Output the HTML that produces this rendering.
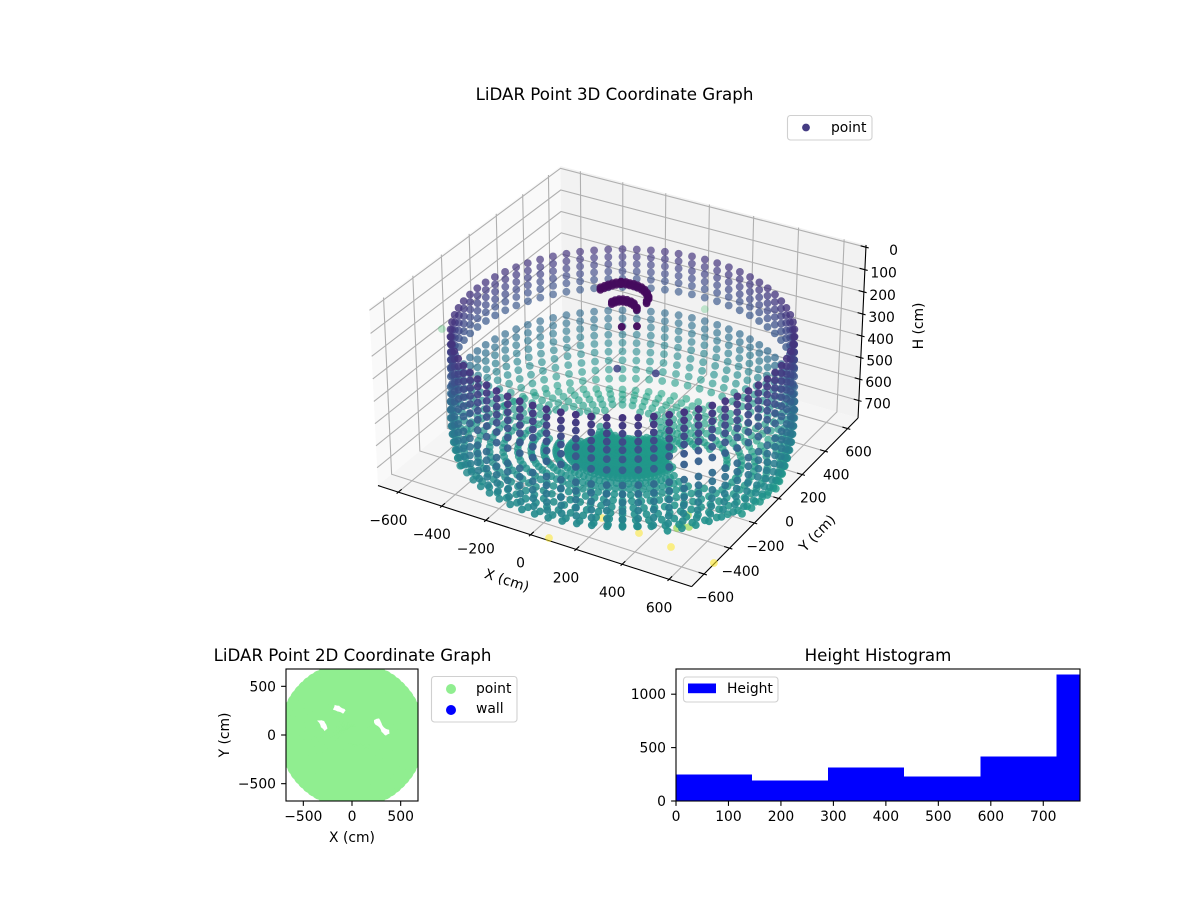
<!DOCTYPE html>
<html>
<head>
<meta charset="utf-8">
<title>LiDAR Point Graphs</title>
<style>
html,body{margin:0;padding:0;background:#fff;}
svg{display:block;}
text{font-family:"DejaVu Sans","Liberation Sans",sans-serif;font-size:13.89px;fill:#000;}
.title{font-size:16.67px;text-anchor:middle;}
.mid{text-anchor:middle;}
.end{text-anchor:end;}
</style>
</head>
<body>
<svg id="fig" xmlns="http://www.w3.org/2000/svg" width="1200" height="900" viewBox="0 0 1200 900">
  <defs>
    <clipPath id="clip2d"><rect x="286" y="669" width="132" height="132"/></clipPath>
    <clipPath id="cliphist"><rect x="676" y="669" width="404" height="132"/></clipPath>
  </defs>
  <rect width="1200" height="900" fill="#fff"/>
  <text class="title" x="614.5" y="100">LiDAR Point 3D Coordinate Graph</text>
  <g id="panes"></g>
  <g id="grid3d" fill="none" stroke="#b0b0b0" stroke-width="1.1"></g>
  <g id="axes3d" fill="none" stroke="#000" stroke-width="1.1"></g>
  <g id="labels3d"></g>
  <g id="scatter3d"></g>
  <text class="mid" transform="translate(507,580) rotate(18)" y="5">X (cm)</text>
  <text class="mid" transform="translate(817,533) rotate(-45.7)" y="5">Y (cm)</text>
  <text class="mid" transform="translate(918,326) rotate(-90)" y="5">H (cm)</text>
  <g>
    <rect x="787.5" y="115.5" width="84.5" height="24.5" rx="3" fill="#fff" fill-opacity="0.8" stroke="#d0d0d0" stroke-width="1.1"/>
    <circle cx="806" cy="127.5" r="3.9" fill="#453c83"/>
    <text x="831" y="132">point</text>
  </g>

  <text class="title" x="352.5" y="661">LiDAR Point 2D Coordinate Graph</text>
  <g id="scatter2d" clip-path="url(#clip2d)" fill="#90ee90"></g>
  <rect x="286" y="669" width="132" height="132" fill="none" stroke="#000" stroke-width="1.1"/>
  <g id="ticks2d"></g>
  <text class="mid" x="352" y="842">X (cm)</text>
  <text class="mid" transform="translate(224,735) rotate(-90)" y="5">Y (cm)</text>
  <g>
    <rect x="431.5" y="676.5" width="85.5" height="45.5" rx="3" fill="#fff" fill-opacity="0.8" stroke="#d0d0d0" stroke-width="1.1"/>
    <circle cx="451" cy="689" r="5" fill="#90ee90"/>
    <text x="476" y="693">point</text>
    <circle cx="451" cy="710" r="5" fill="#0000ff"/>
    <text x="476" y="713">wall</text>
  </g>

  <text class="title" x="878" y="661">Height Histogram</text>
  <g id="bars" clip-path="url(#cliphist)" fill="#0000ff" shape-rendering="crispEdges"></g>
  <rect x="676" y="669" width="404" height="132" fill="none" stroke="#000" stroke-width="1.1"/>
  <g id="tickshist"></g>
  <g>
    <rect x="683.5" y="677" width="94.5" height="25" rx="3" fill="#fff" fill-opacity="0.8" stroke="#d0d0d0" stroke-width="1.1"/>
    <rect x="688" y="683.5" width="28" height="9.7" fill="#0000ff"/>
    <text x="727" y="693">Height</text>
  </g>
</svg>
<script>
// ---- scan geometry (cm) ----
const azimuthDeg = [0,5,10,15,20,25,30,35,40,45,50,55,60,65,70,75,80,85,90,95,100,105,110,115,120,125,130,135,140,145,150,155,160,165,170,175,180,185,190,195,200,205,210,215,220,225,230,235,240,245,250,255,260,265,270,275,280,285,290,295,300,305,310,315,320,325,330,335,340,345,350,355];
const wallRowZ = [226,260,294,329,364,404,450,516,554,592,630,668,706,744,782,820];
const wallRowR = [664,664,665,666,667,668,670,672,673,674,672,669,663,655,646,636];
const wallRowMissingFrom = [999,999,999,999,999,999,30,999,999,999,999,999,999,999,999,999];
const wallRowMissingTo = [999,999,999,999,999,999,210,999,999,999,999,999,999,999,999,999];
const floorRingR = [21,42,63,85,106,128,150,172,194,217,263,311,361,414,472,525,575,625];
const floorCenterZ = [797];
const floorTiltPerCm = [0.13];
const holeX = [-165,-95,-310,-280,250,340];
const holeY = [285,245,130,70,135,40];
const holeRadius = [105,105,105,105,108,108];
const arcX = [-67.8,-61,-53.8,-45.3,-36,-22.9,-22.9,-4.7,11.9,28.7,47.3,67.8,86.9,108.1,128,138.3,26.5,31.9,41.1,54.1,69.7,88.3,105.5,132.1];
const arcY = [-51.2,-32.7,-15.5,-0.2,13.8,28.3,28.3,34.5,35.4,36.4,34.2,28.7,18.1,0.1,-23.1,-56,-126.6,-111.3,-97.4,-89.9,-87,-89.2,-96.6,-120.1];
const arcZ = [40,40,40,40,40,40,40,40,40,40,40,40,40,40,40,40,40,40,40,40,40,40,40,40];
const arcWidthX = [0,-5,5];
const arcWidthY = [0,9,-9];
const strayX = [193,-20,-189,-498,-383,114,121,153,106,-502,-1423,70,216,152.4,199.5];
const strayY = [425,441,467,244,489,247,277,278,355,1607,866,-162,-120,-270.1,-236.8];
const strayZ = [1500,1500,1500,1500,1500,1250,1250,1250,1250,1050,1050,300,300,40,40];
const colorMaxZ = [1500];
// ---- tick labels ----
const xTicks3d = [-600,-400,-200,0,200,400,600];
const yTicks3d = [-600,-400,-200,0,200,400,600];
const zTicks3d = [0,100,200,300,400,500,600,700];
const ticks2d = [-500,0,500];
const histEdges = [0,145,290,435,580,725,870];
const histCounts = [246,190,312,228,415,1183];
const histXTicks = [0,100,200,300,400,500,600,700];
const histYTicks = [0,500,1000];

// ---- axis functions ----
const NS = 'http://www.w3.org/2000/svg';
const L = 695, zTop = -10, zBot = 782, hx = 0.6005, hz = 0.34, S = 2975, CX = 622.5, CY = 365;
function project(x, y, z) {
  const bx = x / L * hx, by = y / L * hx;
  const bz = hz - (z - zTop) / (zBot - zTop) * 2 * hz;
  const du = 0.866025 * bx + 0.5 * by;
  const dv = -0.25 * bx + 0.433013 * by + 0.866025 * bz;
  const dn = 0.433013 * bx - 0.75 * by + 0.5 * bz;
  const w = 10 - dn;
  return [CX + S * du / w, CY - S * dv / w, w];
}
const x2d = v => 352 + v * 0.09735;
const y2d = v => 735 - v * 0.09735;
const xHist = v => 676 + v * 404 / 770;
const yHist = v => 801 - v * 0.1068;

const viridisStops = [[68,1,84],[72,36,117],[65,68,135],[53,95,141],[42,120,142],[33,145,140],[34,168,132],[68,191,112],[122,209,81],[189,223,38],[253,231,37]];
function viridis(t) {
  t = Math.max(0, Math.min(1, t)) * 10;
  const i = Math.min(9, Math.floor(t)), f = t - i, a = viridisStops[i], b = viridisStops[i + 1];
  return 'rgb(' + [0, 1, 2].map(k => Math.round(a[k] + (b[k] - a[k]) * f)).join(',') + ')';
}
const fmt = v => String(v).replace('-', '\u2212');
function mk(tag, attrs, parent) {
  const el = document.createElementNS(NS, tag);
  for (const k in attrs) el.setAttribute(k, attrs[k]);
  parent.appendChild(el);
  return el;
}
function pathOf(pts) {
  return pts.map((p, i) => (i ? 'L' : 'M') + p[0].toFixed(2) + ' ' + p[1].toFixed(2)).join('');
}

// ---- panes ----
const panes = document.getElementById('panes');
const paneDefs = [
  ['pane-left', '#f9f9f9', [[-L,-L,zBot],[-L,L,zBot],[-L,L,zTop],[-L,-L,zTop]]],
  ['pane-back', '#f2f2f2', [[-L,L,zBot],[L,L,zBot],[L,L,zTop],[-L,L,zTop]]],
  ['pane-floor', '#f5f5f5', [[-L,-L,zBot],[L,-L,zBot],[L,L,zBot],[-L,L,zBot]]]
];
paneDefs.forEach(d => {
  const el = mk('path', {d: pathOf(d[2].map(c => project(c[0], c[1], c[2]))) + 'Z', fill: d[1]}, panes);
  
  
});

// ---- grid, ticks, tick labels ----
const grid3d = document.getElementById('grid3d');
const axes3d = document.getElementById('axes3d');
const labels3d = document.getElementById('labels3d');
function gridLine(pts, name) {
  const el = mk('path', {d: pathOf(pts.map(c => project(c[0], c[1], c[2])))}, grid3d);
  
  
}
function axisLine(a, b, name) {
  const el = mk('path', {d: pathOf([project(a[0], a[1], a[2]), project(b[0], b[1], b[2])])}, axes3d);
  
  
}
function label3d(txt, x, y, cls, name) {
  const el = mk('text', {x: x.toFixed(1), y: y.toFixed(1), class: cls}, labels3d);
  el.textContent = txt;
  
  
}
xTicks3d.forEach(v => {
  gridLine([[v,-L,zBot],[v,L,zBot],[v,L,zTop]], 'x-gridline');
  axisLine([v,-L-12,zBot],[v,-L+23,zBot], 'x-tick');
  const p = project(v, -L, zBot);
  label3d(fmt(v), p[0] - 10, p[1] + 33, 'mid', 'x-tick-label');
});
yTicks3d.forEach(v => {
  gridLine([[L,v,zBot],[-L,v,zBot],[-L,v,zTop]], 'y-gridline');
  axisLine([L+12,v,zBot],[L-23,v,zBot], 'y-tick');
  const p = project(L, v, zBot);
  label3d(fmt(v), p[0] + 11, p[1] + 28, 'mid', 'y-tick-label');
});
zTicks3d.forEach(v => {
  gridLine([[-L,-L,v],[-L,L,v],[L,L,v]], 'z-gridline');
  axisLine([L+12,L,v],[L-23,L,v], 'z-tick');
  const p = project(L, L, v);
  label3d(fmt(v), p[0] + 32, p[1] + 8, 'end', 'z-tick-label');
});
axisLine([-L,-L,zBot],[L,-L,zBot], 'x-axis-line');
axisLine([L,-L,zBot],[L,L,zBot], 'y-axis-line');
axisLine([L,L,zBot],[L,L,zTop], 'z-axis-line');

// ---- collect points from the arrays ----
const pts = [];
const pts2d = [];
function floorZAt(y) { return floorCenterZ[0] + floorTiltPerCm[0] * y; }
function inHole(x, y) {
  for (let i = 0; i < holeX.length; i++) {
    if (Math.hypot(x - holeX[i], y - holeY[i]) < holeRadius[i]) return true;
  }
  return false;
}
azimuthDeg.forEach(a => {
  const c = Math.cos(a * Math.PI / 180), s = Math.sin(a * Math.PI / 180);
  wallRowZ.forEach((z, i) => {
    const x = wallRowR[i] * c, y = wallRowR[i] * s;
    if (z > floorZAt(y) + 10) return;
    if (a >= wallRowMissingFrom[i] && a <= wallRowMissingTo[i]) return;
    pts.push([x, y, z]);
    if (i === 0) pts2d.push([x, y]);
  });
  floorRingR.forEach(r => {
    const x = r * c, y = r * s;
    if (inHole(x, y)) return;
    pts.push([x, y, floorZAt(y)]);
    pts2d.push([x, y]);
  });
});
arcX.forEach((x, i) => {
  arcWidthX.forEach((dx, j) => { pts.push([x + dx, arcY[i] + arcWidthY[j], arcZ[i]]); });
});
strayX.forEach((x, i) => { pts.push([x, strayY[i], strayZ[i]]); });

// ---- 3D scatter, depth sorted and depth shaded ----
const projected = pts.map(p => { const q = project(p[0], p[1], p[2]); return {sx: q[0], sy: q[1], w: q[2], z: p[2]}; });
const wMin = Math.min.apply(null, projected.map(p => p.w));
const wMax = Math.max.apply(null, projected.map(p => p.w));
projected.sort((a, b) => b.w - a.w);
const scatter3d = document.getElementById('scatter3d');
projected.forEach(p => {
  const alpha = 1 - 0.7 * (p.w - wMin) / (wMax - wMin);
  const el = mk('circle', {cx: p.sx.toFixed(1), cy: p.sy.toFixed(1), r: 3.9, fill: viridis(p.z / colorMaxZ[0]), 'fill-opacity': alpha.toFixed(2)}, scatter3d);
  
  
});

// ---- 2D scatter ----
const scatter2d = document.getElementById('scatter2d');
pts2d.forEach(p => {
  const el = mk('circle', {cx: x2d(p[0]).toFixed(1), cy: y2d(p[1]).toFixed(1), r: 8.6}, scatter2d);
  
  
});

// ---- 2D ticks ----
function tickLabel(parent, txt, x, y, cls, name) {
  const el = mk('text', {x: x, y: y, class: cls}, parent);
  el.textContent = txt;
  
  
}
function tickMark(parent, x1, y1, x2, y2, name) {
  const el = mk('line', {x1: x1, y1: y1, x2: x2, y2: y2, stroke: '#000', 'stroke-width': 1.1}, parent);
  
  
}
const t2 = document.getElementById('ticks2d');
ticks2d.forEach(v => {
  tickMark(t2, x2d(v), 801, x2d(v), 805.9, 'x-tick-2d');
  tickLabel(t2, fmt(v), x2d(v), 821, 'mid', 'x-tick-label-2d');
  tickMark(t2, 286, y2d(v), 281.1, y2d(v), 'y-tick-2d');
  tickLabel(t2, fmt(v), 276, y2d(v) + 5, 'end', 'y-tick-label-2d');
});

// ---- histogram ----
const bars = document.getElementById('bars');
histCounts.forEach((n, i) => {
  const el = mk('rect', {x: xHist(histEdges[i]), y: yHist(n), width: xHist(histEdges[i + 1]) - xHist(histEdges[i]), height: 801 - yHist(n)}, bars);
  
  
});
const th = document.getElementById('tickshist');
histXTicks.forEach(v => {
  tickMark(th, xHist(v), 801, xHist(v), 805.9, 'x-tick-histogram');
  tickLabel(th, fmt(v), xHist(v), 821, 'mid', 'x-tick-label-histogram');
});
histYTicks.forEach(v => {
  tickMark(th, 676, yHist(v), 671.1, yHist(v), 'y-tick-histogram');
  tickLabel(th, fmt(v), 666, yHist(v) + 5, 'end', 'y-tick-label-histogram');
});
</script>
</body>
</html>
